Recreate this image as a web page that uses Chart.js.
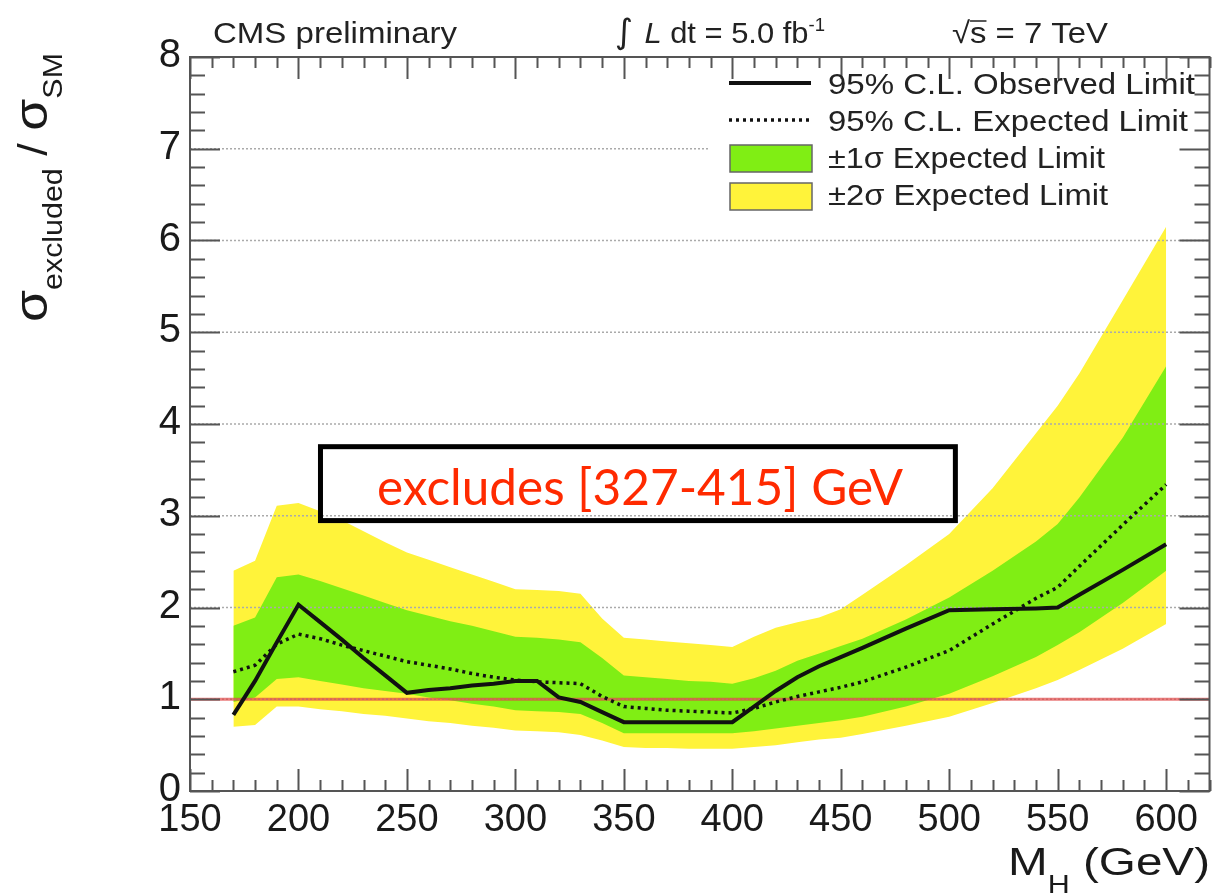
<!DOCTYPE html>
<html>
<head>
<meta charset="utf-8">
<script src="https://cdn.jsdelivr.net/npm/chart.js@4.4.1/dist/chart.umd.min.js"></script>
<style>
  html, body { margin: 0; padding: 0; background: #fff; }
  #wrap { width: 1217px; height: 894px; }
</style>
</head>
<body>
<div id="wrap"><canvas id="limitChart" width="1217" height="894"></canvas></div>
<script>
// Higgs mass points (GeV) and limits
const masses = [170, 180, 190, 200, 210, 220, 230, 240, 250, 260, 270, 280, 290, 300, 310, 320, 330, 340, 350, 360, 370, 380, 390, 400,
  410, 420, 430, 440, 450, 460, 480, 500, 520, 540, 550, 560, 580, 600];
const observed = [0.83, 1.20, 1.62, 2.03, 1.84, 1.65, 1.45, 1.26, 1.07, 1.10, 1.12, 1.15, 1.17, 1.20, 1.20, 1.02, 0.97, 0.86, 0.75, 0.75, 0.75, 0.75, 0.75, 0.75,
  0.92, 1.09, 1.24, 1.36, 1.46, 1.56, 1.77, 1.97, 1.98, 1.99, 2.00, 2.14, 2.41, 2.69];
const expected = [1.30, 1.37, 1.60, 1.71, 1.66, 1.59, 1.53, 1.47, 1.41, 1.37, 1.33, 1.28, 1.24, 1.21, 1.19, 1.18, 1.17, 1.03, 0.92, 0.90, 0.88, 0.87, 0.86, 0.85,
  0.90, 0.97, 1.03, 1.08, 1.13, 1.19, 1.35, 1.53, 1.82, 2.10, 2.22, 2.45, 2.90, 3.34];
const twoSigmaUp = [2.40, 2.51, 3.11, 3.14, 3.05, 2.95, 2.83, 2.71, 2.60, 2.52, 2.44, 2.36, 2.28, 2.20, 2.19, 2.18, 2.15, 1.88, 1.67, 1.65, 1.63, 1.61, 1.59, 1.57,
  1.68, 1.78, 1.84, 1.89, 1.98, 2.14, 2.46, 2.80, 3.30, 3.90, 4.20, 4.55, 5.35, 6.15];
const oneSigmaUp = [1.80, 1.89, 2.33, 2.36, 2.29, 2.21, 2.13, 2.05, 1.97, 1.91, 1.85, 1.80, 1.74, 1.68, 1.67, 1.65, 1.62, 1.45, 1.26, 1.24, 1.22, 1.20, 1.19, 1.17,
  1.23, 1.31, 1.42, 1.50, 1.58, 1.66, 1.87, 2.11, 2.40, 2.72, 2.91, 3.20, 3.85, 4.63];
const oneSigmaDown = [0.97, 1.02, 1.22, 1.24, 1.20, 1.16, 1.12, 1.09, 1.06, 1.02, 0.99, 0.95, 0.92, 0.88, 0.87, 0.86, 0.84, 0.74, 0.63, 0.63, 0.63, 0.63, 0.63, 0.63,
  0.65, 0.68, 0.71, 0.74, 0.77, 0.81, 0.92, 1.06, 1.25, 1.46, 1.59, 1.73, 2.05, 2.40];
const twoSigmaDown = [0.70, 0.72, 0.92, 0.92, 0.89, 0.87, 0.84, 0.82, 0.79, 0.76, 0.74, 0.71, 0.69, 0.66, 0.65, 0.64, 0.61, 0.55, 0.48, 0.47, 0.47, 0.46, 0.46, 0.46,
  0.48, 0.50, 0.53, 0.56, 0.58, 0.62, 0.71, 0.81, 0.96, 1.12, 1.21, 1.32, 1.55, 1.82];

const xTicks = [150, 200, 250, 300, 350, 400, 450, 500, 550, 600];
const yTicks = [0, 1, 2, 3, 4, 5, 6, 7, 8];
const smLine = 1;
const excludedRange = [327, 415];

const YELLOW = '#fff33a';
const GREEN = '#80ee14';
const SANS = "'Liberation Sans', Arial, sans-serif";

const pts = ys => masses.map((m, i) => ({ x: m, y: ys[i] }));

// draw a list of text runs, stretched to a given width
function fitText(ctx, runs, x, y, width) {
  let total = 0;
  runs.forEach(r => { ctx.font = r.f; r.w = ctx.measureText(r.t).width; total += r.w; });
  const k = width / total;
  ctx.save();
  ctx.translate(x, y);
  ctx.scale(k, 1);
  let cx = 0;
  runs.forEach(r => {
    ctx.font = r.f;
    ctx.fillText(r.t, cx, r.dy || 0);
    if (r.over) {
      ctx.save();
      ctx.lineWidth = 1.5;
      ctx.beginPath();
      ctx.moveTo(cx, -22);
      ctx.lineTo(cx + r.w, -22);
      ctx.stroke();
      ctx.restore();
    }
    cx += r.w;
  });
  ctx.restore();
}

const decor = {
  id: 'decor',
  beforeDatasetDraw(chart, args) {
    if (args.index !== 4) return;
    const { ctx, chartArea: a, scales: { x, y } } = chart;
    ctx.save();
    // exclusion box
    const bx0 = x.getPixelForValue(209), bx1 = x.getPixelForValue(504);
    const by0 = y.getPixelForValue(3.78), by1 = y.getPixelForValue(2.92);
    ctx.fillStyle = '#fff';
    ctx.fillRect(bx0, by0, bx1 - bx0, by1 - by0);
    // dotted grid
    ctx.strokeStyle = '#aaa';
    ctx.lineWidth = 1.5;
    ctx.setLineDash([2, 2]);
    yTicks.forEach(v => {
      if (v === 0 || v === 8) return;
      const py = y.getPixelForValue(v);
      ctx.beginPath(); ctx.moveTo(a.left, py); ctx.lineTo(a.right, py); ctx.stroke();
    });
    ctx.setLineDash([]);
    ctx.strokeStyle = '#000';
    ctx.lineWidth = 5;
    ctx.strokeRect(bx0 + 2.5, by0 + 2.5, bx1 - bx0 - 5, by1 - by0 - 5);
    ctx.fillStyle = '#ff2a00';
    ctx.textBaseline = 'alphabetic';
    fitText(ctx, [{ t: `excludes [${excludedRange[0]}-${excludedRange[1]}] GeV`, f: "50px Lato, 'Open Sans', sans-serif" }], 377, 505, 526);
    // SM reference line
    const p1 = y.getPixelForValue(smLine);
    ctx.strokeStyle = 'rgba(225, 70, 70, 0.7)';
    ctx.lineWidth = 3;
    ctx.beginPath(); ctx.moveTo(a.left, p1); ctx.lineTo(a.right, p1); ctx.stroke();
    ctx.restore();
  },
  afterDatasetsDraw(chart) {
    const { ctx, chartArea: a, scales: { x, y } } = chart;
    ctx.save();
    // legend background
    ctx.fillStyle = '#fff';
    ctx.fillRect(710, 62, a.right - 712, 154);

    // frame and inward ticks
    ctx.strokeStyle = '#555';
    ctx.lineWidth = 2;
    ctx.strokeRect(a.left, a.top, a.right - a.left, a.bottom - a.top);
    ctx.beginPath();
    for (let v = 0; v <= 8.001; v += 0.2) {
      const py = Math.round(y.getPixelForValue(v)) + 0.5;
      const len = Math.abs(v - Math.round(v)) < 0.01 ? 30 : 15;
      ctx.moveTo(a.left, py); ctx.lineTo(a.left + len, py);
      ctx.moveTo(a.right, py); ctx.lineTo(a.right - len, py);
    }
    for (let m = 150; m <= 620; m += 10) {
      const px = Math.round(x.getPixelForValue(m)) + 0.5;
      const len = m % 50 === 0 ? 22 : 11;
      ctx.moveTo(px, a.bottom); ctx.lineTo(px, a.bottom - len);
      ctx.moveTo(px, a.top); ctx.lineTo(px, a.top + len);
    }
    ctx.stroke();

    // legend entries
    ctx.strokeStyle = '#111';
    ctx.lineWidth = 4;
    ctx.beginPath(); ctx.moveTo(729, 83); ctx.lineTo(811, 83); ctx.stroke();
    ctx.lineWidth = 3.5;
    ctx.setLineDash([3, 4]);
    ctx.beginPath(); ctx.moveTo(729, 120); ctx.lineTo(811, 120); ctx.stroke();
    ctx.setLineDash([]);
    ctx.lineWidth = 1.5;
    ctx.strokeStyle = '#666';
    ctx.fillStyle = GREEN;
    ctx.fillRect(730, 145, 82, 27); ctx.strokeRect(730, 145, 82, 27);
    ctx.fillStyle = YELLOW;
    ctx.fillRect(730, 183, 82, 27); ctx.strokeRect(730, 183, 82, 27);

    ctx.fillStyle = '#222';
    ctx.textBaseline = 'alphabetic';
    const lf = `30px ${SANS}`;
    fitText(ctx, [{ t: '95% C.L. Observed Limit', f: lf }], 828, 94, 367);
    fitText(ctx, [{ t: '95% C.L. Expected Limit', f: lf }], 828, 131, 360);
    fitText(ctx, [{ t: '±1σ Expected Limit', f: lf }], 828, 168, 277);
    fitText(ctx, [{ t: '±2σ Expected Limit', f: lf }], 828, 205, 280);

    // header
    fitText(ctx, [{ t: 'CMS preliminary', f: lf }], 213, 43, 244);
    fitText(ctx, [
      { t: '∫ ', f: `34px 'DejaVu Sans', sans-serif` },
      { t: 'L', f: `italic 30px ${SANS}` },
      { t: ' dt = 5.0 fb', f: lf },
      { t: '-1', f: `18px ${SANS}`, dy: -12 }
    ], 615, 43, 210);
    ctx.strokeStyle = '#222';
    fitText(ctx, [
      { t: '√', f: lf },
      { t: 's', f: lf, over: true },
      { t: ' = 7 TeV', f: lf }
    ], 952, 43, 156);

    // tick labels
    ctx.fillStyle = '#1a1a1a';
    ctx.font = `40px ${SANS}`;
    ctx.textAlign = 'right';
    ctx.textBaseline = 'middle';
    yTicks.forEach(v => ctx.fillText(String(v), 181, y.getPixelForValue(v) - 1));
    ctx.font = `38px ${SANS}`;
    ctx.textAlign = 'center';
    ctx.textBaseline = 'alphabetic';
    xTicks.forEach(v => ctx.fillText(String(v), x.getPixelForValue(v), 831));

    // axis titles
    ctx.textAlign = 'left';
    fitText(ctx, [
      { t: 'M', f: `39px ${SANS}` },
      { t: 'H', f: `25px ${SANS}`, dy: 18 },
      { t: ' (GeV)', f: `39px ${SANS}` }
    ], 1008, 875, 202);

    ctx.save();
    ctx.translate(47, 322);
    ctx.rotate(-Math.PI / 2);
    fitText(ctx, [
      { t: 'σ', f: `46px ${SANS}` },
      { t: 'excluded', f: `27px ${SANS}`, dy: 15 },
      { t: ' / ', f: `40px ${SANS}` },
      { t: 'σ', f: `46px ${SANS}` },
      { t: 'SM', f: `27px ${SANS}`, dy: 15 }
    ], 0, 0, 269);
    ctx.restore();
    ctx.restore();
  }
};

const band = (data, fill, color, order) => ({
  data: pts(data), fill, backgroundColor: color, borderColor: 'transparent',
  borderWidth: 0, pointRadius: 0, tension: 0, order
});

new Chart(document.getElementById('limitChart'), {
  type: 'line',
  data: {
    datasets: [
      { label: '±2σ Expected Limit', ...band(twoSigmaUp, '+1', YELLOW, 4) },
      { label: '-2σ', ...band(twoSigmaDown, false, YELLOW, 4) },
      { label: '±1σ Expected Limit', ...band(oneSigmaUp, '+1', GREEN, 3) },
      { label: '-1σ', ...band(oneSigmaDown, false, GREEN, 3) },
      { label: '95% C.L. Expected Limit', data: pts(expected), borderColor: '#111', borderWidth: 3.5,
        borderDash: [3, 4], pointRadius: 0, fill: false, tension: 0, order: 2 },
      { label: '95% C.L. Observed Limit', data: pts(observed), borderColor: '#111', borderWidth: 4,
        pointRadius: 0, fill: false, tension: 0, order: 1 }
    ]
  },
  options: {
    responsive: false,
    animation: false,
    layout: { padding: { left: 190, top: 57, right: 7.5, bottom: 103 } },
    scales: {
      x: { type: 'linear', min: 150, max: 620, display: false },
      y: { min: 0, max: 8, display: false }
    },
    plugins: { legend: { display: false }, tooltip: { enabled: false } }
  },
  plugins: [decor]
});
</script>
</body>
</html>
